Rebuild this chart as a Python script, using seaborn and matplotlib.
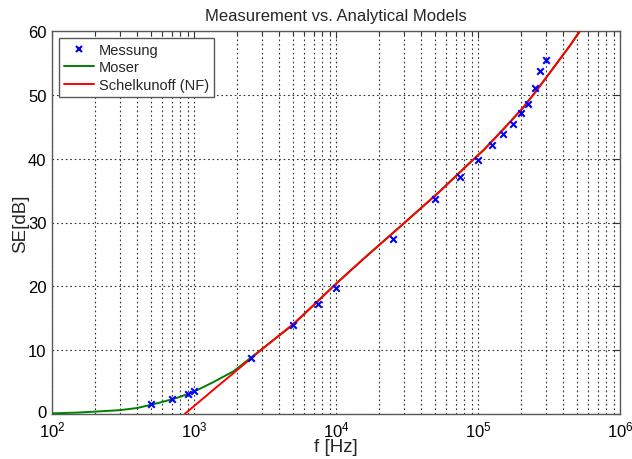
import numpy as np
import pandas as pd
import matplotlib
matplotlib.use("Agg")
import matplotlib.pyplot as plt
import matplotlib.transforms as mtransforms
import seaborn as sns
from matplotlib.ticker import LogLocator, FixedLocator, NullFormatter
from matplotlib.lines import Line2D

# Measurement data
mess_f = [500, 700, 900, 1000, 2500, 5000, 7500, 10000, 25000, 50000, 75000,
          100000, 125000, 150000, 175000, 200000, 225000, 250000, 275000, 300000]
mess_se = [1.6, 2.4, 3.2, 3.6, 8.7, 14.0, 17.3, 19.7, 27.4, 33.7, 37.2,
           39.8, 42.2, 43.9, 45.5, 47.1, 48.6, 51.0, 53.7, 55.5]

# Moser model
moser_f = [100, 150, 200, 300, 400, 500, 600, 700, 800, 1000, 1370, 1900, 2900,
           5000, 7300, 10000, 15600, 29800, 54000, 88000, 109000, 150700,
           208000, 259000, 339000, 444000, 522000]
moser_se = [0.1, 0.22, 0.37, 0.6, 0.95, 1.45, 1.9, 2.3, 2.7, 3.5, 5.0, 6.7, 9.9,
            14.0, 17.5, 20.4, 24.3, 29.8, 34.9, 39.4, 41.3, 44.6,
            48.0, 50.7, 54.2, 57.7, 60.0]

# Schelkunoff (NF) model
schel_f = [860, 1370, 1944, 2918, 5000, 7310, 10000, 15600, 29800, 54000, 88000,
           109000, 150700, 208000, 259000, 339000, 444000, 522000]
schel_se = [0.0, 3.8, 6.6, 9.9, 14.1, 17.5, 20.4, 24.3, 29.8, 34.9, 39.4,
            41.3, 44.6, 48.0, 50.7, 54.2, 57.7, 60.0]

x_ticks = [1e2, 1e3, 1e4, 1e5, 1e6]
x_ticklabels = [r"$10^{2}$", r"$10^{3}$", r"$10^{4}$", r"$10^{5}$", r"$10^{6}$"]
y_ticks = [0, 10, 20, 30, 40, 50, 60]

sns.set_style("white")
plt.rcParams['font.family'] = ['Liberation Sans', 'DejaVu Sans']
plt.rcParams['mathtext.fontset'] = 'custom'
plt.rcParams['mathtext.rm'] = 'Liberation Sans'
plt.rcParams['mathtext.it'] = 'Liberation Sans'

fig = plt.figure(figsize=(6.32, 4.60), dpi=100)
ax = fig.add_axes([52/632, 45/460, 568/632, 383/460])

ax.set_xscale('log')

sns.lineplot(x=moser_f, y=moser_se, color='#008000', lw=1.4,
             estimator=None, sort=False, ax=ax, zorder=3)
sns.lineplot(x=schel_f, y=schel_se, color='#ff0000', lw=1.4,
             estimator=None, sort=False, ax=ax, zorder=4)
sns.scatterplot(x=mess_f, y=mess_se, marker='x', color='#0000ff', s=22,
                linewidth=1.5, ax=ax, zorder=5)

ax.set_xlim(1e2, 1e6)
ax.set_ylim(0, 60)
ax.xaxis.set_major_locator(FixedLocator(x_ticks))
ax.set_xticklabels(x_ticklabels)
ax.xaxis.set_minor_locator(LogLocator(base=10, subs=np.arange(2, 10), numticks=20))
ax.xaxis.set_minor_formatter(NullFormatter())
ax.set_yticks(y_ticks)
ax.set_yticklabels([str(v) for v in y_ticks])

ax.grid(True, which='major', axis='both', color='0.2', linestyle=(0, (1.5, 2.5)), lw=0.8)
ax.grid(True, which='minor', axis='x', color='0.2', linestyle=(0, (1.5, 2.5)), lw=0.8)

ax.tick_params(axis='both', which='both', direction='in', top=True, right=True,
               labelsize=12, colors='0.2', labelcolor='black')
ax.tick_params(which='major', length=5, width=0.8)
ax.tick_params(which='minor', length=3, width=0.8)
ax.tick_params(axis='x', pad=4)
ax.tick_params(axis='y', pad=4)
for s in ax.spines.values():
    s.set_color('0.35')
    s.set_linewidth(1.0)

# nudge the "0" y label up slightly so it does not collide with 10^2
lbl0 = ax.get_yticklabels()[0]
lbl0.set_transform(lbl0.get_transform() + mtransforms.ScaledTranslation(0, 3/100, fig.dpi_scale_trans))

ax.set_title('Measurement vs. Analytical Models', fontsize=12, pad=8)
ax.set_xlabel('f [Hz]', fontsize=13.5, labelpad=-1)
ax.set_ylabel('SE[dB]', fontsize=13.5, labelpad=-1)

handles = [
    Line2D([], [], marker='x', color='#0000ff', linestyle='None', markersize=4.5, mew=1.5),
    Line2D([], [], color='#008000', lw=1.4),
    Line2D([], [], color='#ff0000', lw=1.4),
]
leg = ax.legend(handles, ['Messung', 'Moser', 'Schelkunoff (NF)'], loc='upper left',
                fontsize=10.5, frameon=True, fancybox=False, framealpha=1,
                edgecolor='0.35', borderaxespad=0.45, handlelength=2.1,
                handletextpad=0.3, labelspacing=0.25, borderpad=0.35)
leg.get_frame().set_linewidth(1.0)

fig.savefig('out.png', dpi=100)
